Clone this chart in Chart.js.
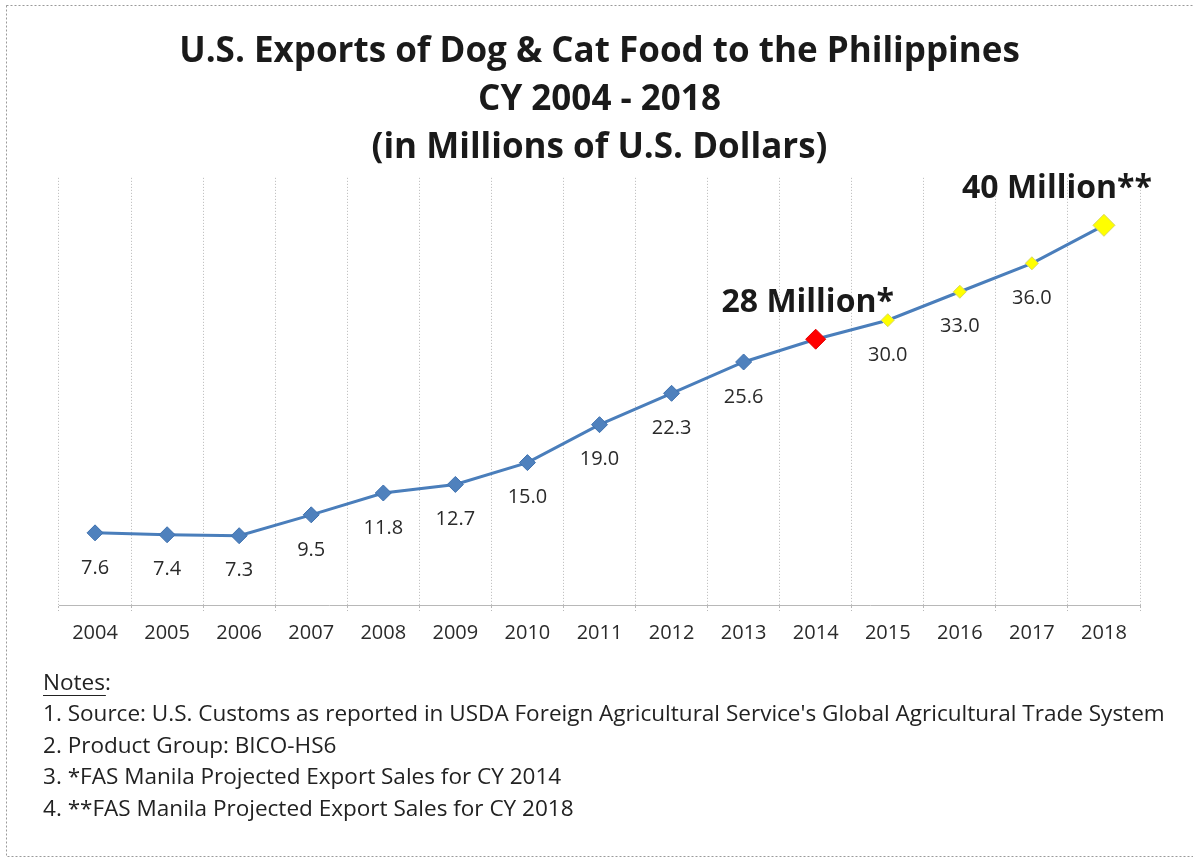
<!DOCTYPE html>
<html>
<head>
<meta charset="utf-8">
<script src="https://cdn.jsdelivr.net/npm/chart.js@4/dist/chart.umd.min.js"></script>
<style>
  html, body { margin: 0; padding: 0; background: #fff; }
  canvas { display: block; }
</style>
</head>
<body>
<canvas id="chart" width="1193" height="859"></canvas>
<script>
const years = ["2004", "2005", "2006", "2007", "2008", "2009", "2010", "2011",
  "2012", "2013", "2014", "2015", "2016", "2017", "2018"];
const exportsUSD = [7.6, 7.4, 7.3, 9.5, 11.8, 12.7, 15.0, 19.0, 22.3, 25.6, 28, 30, 33, 36, 40];
// big bold callouts replace the normal value label on these points
const callouts = { 10: "28 Million*", 14: "40 Million**" };
const titleLines = [
  "U.S. Exports of Dog & Cat Food to the Philippines",
  "CY 2004 - 2018",
  "(in Millions of U.S. Dollars)",
];
const notes = [
  "1. Source: U.S. Customs as reported in USDA Foreign Agricultural Service's Global Agricultural Trade System",
  "2. Product Group: BICO-HS6",
  "3. *FAS Manila Projected Export Sales for CY 2014",
  "4. **FAS Manila Projected Export Sales for CY 2018",
];

const BLUE = "#4a7ebb";
const FONT = "'Open Sans', Lato, sans-serif";

const pointFill = exportsUSD.map((v, i) =>
  i === 10 ? "#ff0000" : i > 10 ? "#ffff00" : "#4f81bd");
const pointEdge = exportsUSD.map((v, i) =>
  i === 10 ? "#e00000" : i > 10 ? "#d8d860" : "#3f72b0");
const pointSize = exportsUSD.map((v, i) =>
  i === 10 ? 10 : i === 14 ? 11 : i > 10 ? 6.5 : 8);

const pageDecor = {
  id: "pageDecor",
  beforeDraw(chart) {
    const { ctx } = chart;
    ctx.save();
    ctx.fillStyle = "#fff";
    ctx.fillRect(0, 0, chart.width, chart.height);
    ctx.setLineDash([2, 2]);
    ctx.strokeStyle = "#9a9a9a";
    ctx.lineWidth = 1;
    ctx.strokeRect(6.5, 5.5, 1200, 851);
    ctx.restore();
  },
  afterDraw(chart) {
    const { ctx } = chart;
    ctx.save();
    ctx.fillStyle = "#222";
    ctx.textBaseline = "middle";
    ctx.textAlign = "left";
    // size the notes so the long source line spans the same width as the original
    ctx.font = "20px " + FONT;
    const size = 20 * 1122 / ctx.measureText(notes[0]).width;
    ctx.font = size.toFixed(2) + "px " + FONT;
    ctx.fillText("Notes:", 43, 684);
    const w = ctx.measureText("Notes:").width;
    ctx.fillRect(43, 695, w - 5, 1);
    notes.forEach((line, i) => {
      ctx.fillText(line, 43, 715 + i * 31.5);
    });
    ctx.restore();
  },
};

const valueLabels = {
  id: "valueLabels",
  afterDatasetsDraw(chart) {
    const { ctx } = chart;
    const meta = chart.getDatasetMeta(0);
    ctx.save();
    ctx.textAlign = "center";
    ctx.textBaseline = "middle";
    meta.data.forEach((pt, i) => {
      if (callouts[i]) {
        ctx.font = "bold 32px " + FONT;
        ctx.fillStyle = "#1a1a1a";
        const dx = i === 14 ? -47 : -8;
        ctx.fillText(callouts[i], pt.x + dx, pt.y - 36);
      } else {
        ctx.font = "20px " + FONT;
        ctx.fillStyle = "#2a2a2a";
        ctx.fillText(exportsUSD[i].toFixed(1), pt.x, pt.y + 35);
      }
    });
    ctx.restore();
  },
};

new Chart(document.getElementById("chart"), {
  type: "line",
  data: {
    labels: years,
    datasets: [{
      data: exportsUSD,
      borderColor: BLUE,
      borderWidth: 3,
      pointStyle: "rectRot",
      pointRadius: pointSize,
      pointBackgroundColor: pointFill,
      pointBorderColor: pointEdge,
      pointBorderWidth: 1,
      tension: 0,
    }],
  },
  options: {
    responsive: false,
    animation: false,
    layout: { padding: { left: 59, right: 53, top: 0, bottom: 204 } },
    plugins: {
      legend: { display: false },
      tooltip: { enabled: false },
      title: {
        display: true,
        text: titleLines,
        color: "#1a1a1a",
        font: { family: FONT, size: 35, weight: "bold", lineHeight: 1.37 },
        padding: { top: 28, bottom: 6 },
      },
    },
    scales: {
      x: {
        offset: true,
        grid: {
          offset: true,
          color: "#b8b8b8",
          tickLength: 6,
          tickBorderDash: [2, 2],
        },
        border: { display: true, color: "#b8b8b8", dash: [1, 2] },
        ticks: {
          color: "#2a2a2a",
          padding: 10,
          font: { family: FONT, size: 20 },
        },
      },
      y: {
        display: false,
        min: 0,
        max: 45,
        grid: { display: false },
      },
    },
  },
  plugins: [pageDecor, valueLabels],
});
</script>
</body>
</html>
